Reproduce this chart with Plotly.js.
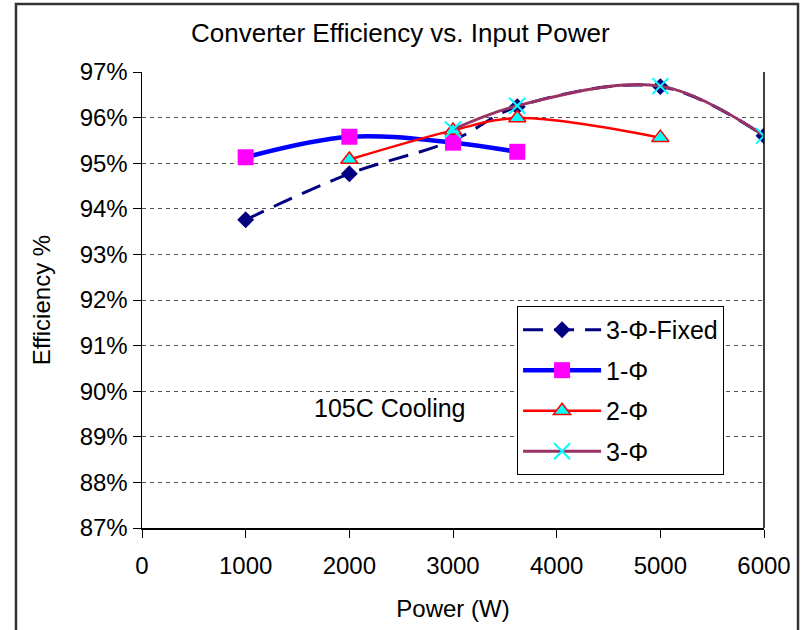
<!DOCTYPE html>
<html>
<head>
<meta charset="utf-8">
<script src="https://cdn.plot.ly/plotly-3.0.1.min.js"></script>
<style>html,body{margin:0;padding:0;background:#fff;}#chart{width:807px;height:630px;}</style>
</head>
<body>
<div id="chart"></div>
<script>
// Data
const fixedPower = [1000, 2000, 3000, 3620, 5000, 6000];
const fixedEff   = [93.76, 94.77, 95.5, 96.24, 96.68, 95.6];

const onePhasePower = [1000, 2000, 3000, 3620];
const onePhaseEff   = [95.13, 95.58, 95.45, 95.25];

const twoPhasePower = [2000, 3000, 3620, 5000];
const twoPhaseEff   = [95.08, 95.72, 95.99, 95.56];

const threePhasePower = [3000, 3620, 5000, 6000];
const threePhaseEff   = [95.74, 96.26, 96.69, 95.6];

const seriesNames = ['3-Φ-Fixed', '1-Φ', '2-Φ', '3-Φ'];
const yTicks = [87, 88, 89, 90, 91, 92, 93, 94, 95, 96, 97];
const xTicks = [0, 1000, 2000, 3000, 4000, 5000, 6000];

const FONT = 'Liberation Sans, Arial, sans-serif';

const traces = [
  {
    x: fixedPower, y: fixedEff, name: seriesNames[0], mode: 'lines+markers',
    legendgroup: 'a',
    line: {color: '#000080', width: 3, dash: '20px,11px', shape: 'spline'},
    marker: {symbol: 'diamond', size: 13, color: '#000080'}
  },
  {
    x: onePhasePower, y: onePhaseEff, name: seriesNames[1], mode: 'lines+markers',
    legendgroup: 'b',
    line: {color: '#0000FF', width: 4.5, shape: 'spline'},
    marker: {symbol: 'square', size: 16, color: '#FF00FF'}
  },
  {
    x: twoPhasePower, y: twoPhaseEff, name: seriesNames[2], mode: 'lines+markers',
    legendgroup: 'c',
    line: {color: '#FF0000', width: 2.5, shape: 'spline'},
    marker: {symbol: 'triangle-up', size: 15, color: '#00FFFF', line: {color: '#FF0000', width: 1.5}}
  },
  {
    x: threePhasePower, y: threePhaseEff, name: seriesNames[3], mode: 'lines+markers',
    legendgroup: 'd',
    line: {color: '#993366', width: 3, shape: 'spline'},
    marker: {symbol: 'x-thin', size: 16, color: '#00FFFF', line: {color: '#00FFFF', width: 2}}
  }
];

const layout = {
  width: 807, height: 630,
  margin: {l: 142, r: 43, t: 72, b: 102},
  paper_bgcolor: '#ffffff', plot_bgcolor: '#ffffff',
  font: {family: FONT, size: 24, color: '#000'},
  title: {text: 'Converter Efficiency vs. Input Power', font: {family: FONT, size: 26, color: '#000'},
          x: 0.496, xanchor: 'center', y: 0.948, yanchor: 'middle'},
  xaxis: {
    range: [0, 6000], tickvals: xTicks, ticktext: xTicks.map(String),
    showgrid: false, zeroline: false, showline: true, linecolor: '#000', linewidth: 1.5,
    ticks: 'outside', ticklen: 8, tickcolor: '#000', tickwidth: 1,
    ticklabelstandoff: 8,
    tickfont: {family: FONT, size: 24}, fixedrange: true,
    title: {text: 'Power (W)', font: {family: FONT, size: 24}, standoff: 22}
  },
  yaxis: {
    range: [87, 97], tickvals: yTicks, ticktext: yTicks.map(v => v + '%'),
    showgrid: true, gridcolor: '#555', griddash: '4px,4px', gridwidth: 1,
    zeroline: false, showline: true, linecolor: '#000', linewidth: 1.5,
    ticks: 'outside', ticklen: 8, tickcolor: '#000', tickwidth: 1,
    tickfont: {family: FONT, size: 24}, fixedrange: true,
    title: {text: 'Efficiency %', font: {family: FONT, size: 24}, standoff: 22}
  },
  legend: {
    x: 0.603, y: 0.487, xanchor: 'left', yanchor: 'top',
    bgcolor: '#fff', bordercolor: '#000', borderwidth: 1,
    font: {family: FONT, size: 25, color: '#000'},
    tracegroupgap: 5, itemwidth: 78
  },
  annotations: [
    {x: 2392, y: 89.63, xref: 'x', yref: 'y', text: '105C Cooling', showarrow: false,
     font: {family: FONT, size: 25, color: '#000'}}
  ],
  shapes: [
    {type: 'line', xref: 'paper', yref: 'paper', x0: 1, x1: 1, y0: 0, y1: 1,
     line: {color: '#000', width: 1.5}},
    {type: 'rect', xref: 'paper', yref: 'paper', x0: -0.2026, x1: 1.0547, y0: -0.3, y1: 1.149,
     line: {color: '#333', width: 2.5}, layer: 'below'}
  ],
  showlegend: true
};

Plotly.newPlot('chart', traces, layout, {displayModeBar: false, staticPlot: true});
</script>
</body>
</html>
